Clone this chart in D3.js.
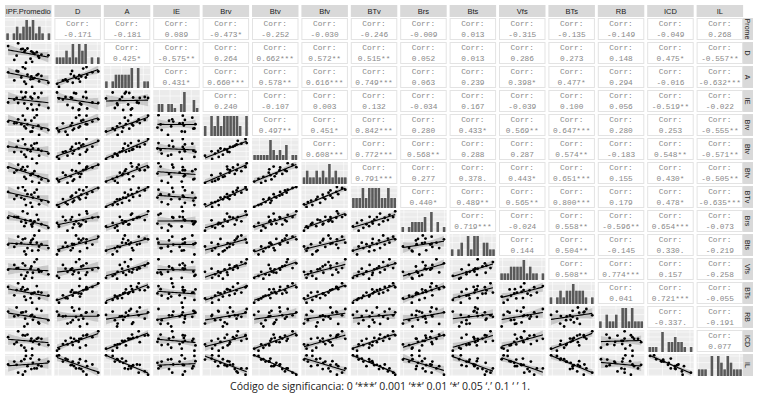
<!DOCTYPE html>
<html><head><meta charset="utf-8">
<script src="https://cdn.jsdelivr.net/npm/d3@7"></script>
<style>body{margin:0;background:#fff}</style>
</head><body><svg id="c" width="774" height="400"></svg>
<script>
var vars = ["IPF.Promedio","D","A","IE","Brv","Btv","Bfv","BTv","Brs","Bts","Vfs","BTs","RB","ICD","IL"];
var rowLabels = ["Prome","D","A","IE","Brv","Btv","Bfv","BTv","Brs","Bts","Vfs","BTs","RB","ICD","IL"];

// correlation text, upper triangle (row i, columns i+1..)
var corrText = [
 ["-0.171","-0.181","0.089","-0.473*","-0.252","-0.030","-0.246","-0.009","0.013","-0.315","-0.135","-0.149","-0.049","0.268"],
 ["0.425*","-0.575**","0.264","0.662***","0.572**","0.515**","0.052","0.013","0.286","0.273","0.148","0.475*","-0.557**"],
 ["0.431*","0.660***","0.578**","0.616***","0.749***","0.063","0.239","0.398*","0.477*","0.294","-0.016","-0.632***"],
 ["0.240","-0.107","0.003","0.132","-0.034","0.167","-0.039","0.100","0.056","-0.519**","-0.022"],
 ["0.497**","0.451*","0.842***","0.280","0.433*","0.569**","0.647***","0.280","0.253","-0.555**"],
 ["0.608***","0.772***","0.568**","0.288","0.287","0.574**","-0.183","0.548**","-0.571**"],
 ["0.791***","0.277","0.378.","0.443*","0.651***","0.155","0.430*","-0.505**"],
 ["0.440*","0.489**","0.565**","0.800***","0.179","0.478*","-0.635***"],
 ["0.719***","-0.024","0.558**","-0.596**","0.654***","-0.073"],
 ["0.144","0.504**","-0.145","0.330.","-0.219"],
 ["0.508**","0.774***","0.157","-0.258"],
 ["0.041","0.721***","-0.055"],
 ["-0.337.","-0.191"],
 ["0.077"]
];

// observations per variable
var IPF = [6.2,7.1,5.4,8.3,6.0,5.2,7.4,3.9,6.3,7.0,4.8,6.1,4.2,5.6,6.5,3.1,5.3,6.8,4.4,5.0];
var D   = [2.1,3.4,1.8,4.2,3.1,5.3,4.4,2.7,5.1,3.9,6.2,5.5,4.1,6.4,4.7,7.2,5.8,5.2,8.1,6.3];
var A   = [1.2,3.3,2.4,2.8,4.1,3.2,5.4,3.7,4.3,6.1,4.8,5.2,7.3,5.9,4.6,6.8,8.2,5.7,7.1,8.8];
var IE  = [5.1,3.8,6.3,3.2,5.4,4.1,6.2,4.9,2.8,5.3,6.4,3.9,5.2,3.1,6.1,4.3,5.4,2.9,4.2,5.2];
var Brv = [2.3,1.1,3.4,2.8,2.2,4.1,3.3,5.2,3.7,4.4,4.9,6.1,5.3,4.8,7.2,5.8,6.4,8.1,6.6,7.9];
var Btv = [1.1,2.4,1.9,3.2,4.1,2.8,4.3,3.8,5.2,4.9,3.9,6.3,5.8,4.7,7.1,5.9,6.8,7.3,8.2,8.9];
var Bfv = [2.2,1.8,3.1,2.4,4.3,3.7,2.9,5.1,4.8,3.9,6.2,4.7,5.9,7.1,5.6,6.8,5.9,8.2,7.7,6.9];
var BTv = [1.1,2.2,1.9,3.1,2.8,4.2,3.7,4.3,4.9,5.2,4.8,6.1,5.7,6.3,6.9,7.2,7.8,8.1,8.8,9.2];
var Brs = [3.2,1.9,4.3,2.8,5.1,3.3,3.9,6.2,4.1,5.3,4.7,3.8,6.1,7.2,4.8,5.9,5.2,6.8,6.1,7.9];
var Bts = [3.1,4.2,2.1,3.8,5.2,2.9,4.8,4.1,6.2,3.2,5.1,5.8,4.9,3.8,7.1,4.7,6.3,5.2,6.8,6.1];
var Vfs = [2.2,4.1,2.8,3.3,5.1,1.9,4.2,6.3,3.8,4.9,3.1,5.8,5.2,3.9,7.2,4.8,6.1,8.1,5.3,6.8];
var BTs = [1.8,3.2,2.7,4.1,3.3,3.8,5.1,4.2,4.8,5.3,6.1,4.7,5.9,6.2,5.1,6.9,5.8,7.2,8.1,6.8];
var RB  = [5.2,2.9,6.1,3.8,4.9,2.1,6.3,4.8,3.9,3.2,5.8,5.1,7.2,2.8,4.7,6.1,4.2,6.8,5.1,5.9];
var ICD = [2.8,4.1,2.2,3.9,5.2,3.1,5.8,4.2,4.9,6.1,3.8,5.9,4.8,7.1,5.2,6.3,6.8,5.8,8.1,6.9];
var IL  = [8.1,6.8,7.9,6.2,7.1,6.9,4.8,6.2,5.8,5.1,6.3,3.9,5.2,4.8,4.1,5.3,3.2,4.1,2.8,2.2];
var cols = [IPF,D,A,IE,Brv,Btv,Bfv,BTv,Brs,Bts,Vfs,BTs,RB,ICD,IL];

var svg = d3.select("#c");
var n = vars.length, x0 = 5, y0 = 18, px = 49.4, py = 24, pw = 46.5, ph = 22;

// top strips
vars.forEach(function(v, j) {
  svg.append("rect").attr("x", x0 + j*px).attr("y", 5).attr("width", pw).attr("height", 12).attr("fill", "#d9d9d9");
  svg.append("text").attr("x", x0 + j*px + pw/2).attr("y", 14).attr("text-anchor", "middle")
    .attr("font-family", "Liberation Sans").attr("font-size", 7.5).attr("fill", "#1a1a1a").text(v);
});
// right strips
rowLabels.forEach(function(v, i) {
  var yy = y0 + i*py;
  svg.append("rect").attr("x", 742).attr("y", yy).attr("width", 11).attr("height", ph).attr("fill", "#d9d9d9");
  svg.append("g").attr("transform", "translate(745," + (yy + ph/2) + ") rotate(90)")
    .append("text").attr("text-anchor", "middle").attr("font-family", "Liberation Sans")
    .attr("font-size", 7).attr("fill", "#1a1a1a").text(v);
});

function grid(g, sx, sy) {
  g.append("rect").attr("width", pw).attr("height", ph).attr("fill", "#ebebeb");
  sx.ticks(4).forEach(function(t){ g.append("line").attr("x1", sx(t)).attr("x2", sx(t)).attr("y1",0).attr("y2",ph).attr("stroke","#fff").attr("stroke-width",0.6); });
  sy.ticks(3).forEach(function(t){ g.append("line").attr("y1", sy(t)).attr("y2", sy(t)).attr("x1",0).attr("x2",pw).attr("stroke","#fff").attr("stroke-width",0.6); });
}

for (var i = 0; i < n; i++) {
  for (var j = 0; j < n; j++) {
    var g = svg.append("g").attr("transform", "translate(" + (x0 + j*px) + "," + (y0 + i*py) + ")");
    if (j > i) {
      g.append("rect").attr("x",0.5).attr("y",0.5).attr("width", pw-1).attr("height", ph-1).attr("fill","#fff").attr("stroke","#e3e3e3");
      g.append("text").attr("x", pw/2).attr("y", 8).attr("text-anchor","middle").attr("font-family","Liberation Mono")
        .attr("font-size",7.8).attr("fill","#888").text("Corr:");
      g.append("text").attr("x", pw/2).attr("y", 18.5).attr("text-anchor","middle").attr("font-family","Liberation Mono")
        .attr("font-size",7.8).attr("fill","#888").text(corrText[i][j-i-1]);
    } else if (j === i) {
      var xv = cols[j];
      var lo = d3.min(xv) - 0.3, hi = d3.max(xv) + 0.3;
      var sx = d3.scaleLinear().domain([lo, hi]).range([1, pw-1]);
      var bins = d3.bin().domain([lo, hi]).thresholds(d3.range(lo, hi, (hi-lo)/14))(xv);
      var sy = d3.scaleLinear().domain([0, d3.max(bins, function(b){return b.length;})]).range([ph, 2]);
      grid(g, sx, sy);
      g.selectAll("rect.b").data(bins).enter().append("rect").attr("class","b")
        .attr("x", function(b){return sx(b.x0)+0.3;}).attr("width", function(b){return Math.max(0, sx(b.x1)-sx(b.x0)-0.6);})
        .attr("y", function(b){return sy(b.length);}).attr("height", function(b){return ph - sy(b.length);})
        .attr("fill", "#595959");
    } else {
      var xs = cols[j], ys = cols[i];
      var sx = d3.scaleLinear().domain([d3.min(xs)-0.4, d3.max(xs)+0.4]).range([0, pw]);
      var sy = d3.scaleLinear().domain([d3.min(ys)-0.4, d3.max(ys)+0.4]).range([ph, 0]);
      grid(g, sx, sy);
      var mx = d3.mean(xs), my = d3.mean(ys), m = xs.length;
      var sxx = d3.sum(xs, function(v){return (v-mx)*(v-mx);});
      var b1 = d3.sum(xs, function(v,k){return (v-mx)*(ys[k]-my);}) / sxx, b0 = my - b1*mx;
      var se = Math.sqrt(d3.sum(xs, function(v,k){var r = ys[k]-b0-b1*v; return r*r;}) / (m-2));
      var xg = d3.range(d3.min(xs), d3.max(xs)+0.001, (d3.max(xs)-d3.min(xs))/20);
      var band = xg.map(function(v){ var h = 2.1*se*Math.sqrt(1/m + (v-mx)*(v-mx)/sxx); return {x:v, y:b0+b1*v, lo:b0+b1*v-h, hi:b0+b1*v+h}; });
      var cl = g.append("clipPath").attr("id","cp"+i+"_"+j);
      cl.append("rect").attr("width", pw).attr("height", ph);
      var gg = g.append("g").attr("clip-path","url(#cp"+i+"_"+j+")");
      gg.append("path").datum(band).attr("fill","#999").attr("opacity",0.45)
        .attr("d", d3.area().x(function(d){return sx(d.x);}).y0(function(d){return sy(d.lo);}).y1(function(d){return sy(d.hi);}));
      gg.append("path").datum(band).attr("fill","none").attr("stroke","#000").attr("stroke-width",1.1)
        .attr("d", d3.line().x(function(d){return sx(d.x);}).y(function(d){return sy(d.y);}));
      gg.selectAll("circle").data(xs).enter().append("circle")
        .attr("cx", function(v){return sx(v);}).attr("cy", function(v,k){return sy(ys[k]);}).attr("r", 1.4).attr("fill","#000");
    }
  }
}

svg.append("text").attr("x", 380).attr("y", 390).attr("text-anchor","middle").attr("font-family","Open Sans")
  .attr("font-size", 10.5).attr("fill","#222")
  .text("Código de significancia: 0 ‘***’ 0.001 ‘**’ 0.01 ‘*’ 0.05 ‘.’ 0.1 ‘ ’ 1.");
</script></body></html>
